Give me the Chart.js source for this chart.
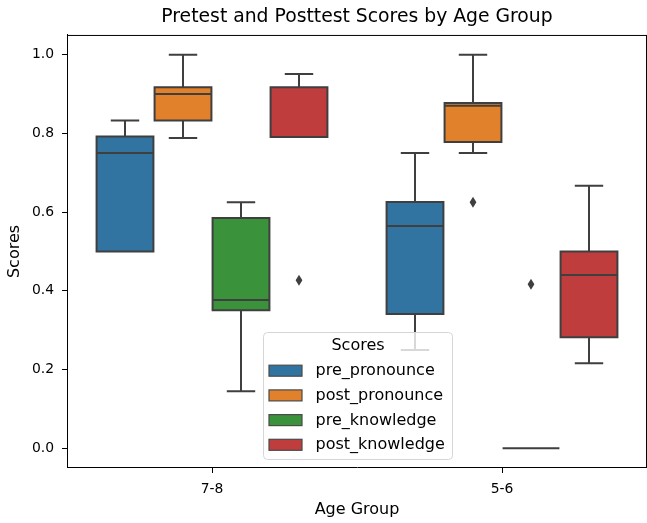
<!DOCTYPE html>
<html>
<head>
<meta charset="utf-8">
<script src="https://cdn.jsdelivr.net/npm/chart.js@4.4.1/dist/chart.umd.min.js"></script>
<style>
  html, body { margin: 0; padding: 0; background: #ffffff; }
  #wrap { width: 647px; height: 523px; position: relative; }
</style>
</head>
<body>
<div id="wrap"><canvas id="c" width="647" height="523"></canvas></div>
<script>
// ---- data ----
const categories = ['7-8', '5-6'];
const seriesNames = ['pre_pronounce', 'post_pronounce', 'pre_knowledge', 'post_knowledge'];
const seriesColors = ['#3274a1', '#e1812c', '#3a923a', '#c03d3e'];
// one row per series, one value per category (7-8, 5-6)
const whiskerLow  = [[0.500, 0.250], [0.788, 0.750], [0.145, 0.000], [0.791, 0.216]];
const q1          = [[0.500, 0.341], [0.833, 0.778], [0.351, 0.000], [0.791, 0.282]];
const median      = [[0.750, 0.565], [0.900, 0.870], [0.377, 0.000], [0.917, 0.440]];
const q3          = [[0.792, 0.626], [0.917, 0.877], [0.585, 0.000], [0.917, 0.500]];
const whiskerHigh = [[0.833, 0.750], [1.000, 1.000], [0.625, 0.000], [0.951, 0.667]];
const outliers    = [[[], []], [[], [0.625]], [[], [0.417]], [[0.427], []]];
const yTicks = [0.0, 0.2, 0.4, 0.6, 0.8, 1.0];

const FONT = 'DejaVu Sans';
const LINE = '#3f3f3f';

const datasets = seriesNames.map((name, s) => ({
  label: name,
  data: categories.map((c, i) => [q1[s][i], q3[s][i]]),
  backgroundColor: seriesColors[s],
  borderWidth: 0,
  categoryPercentage: 0.8,
  barPercentage: 0.98
}));

const boxExtras = {
  id: 'boxExtras',
  afterDatasetsDraw(chart) {
    const ctx = chart.ctx;
    const ys = chart.scales.y;
    ctx.save();
    ctx.strokeStyle = LINE;
    ctx.fillStyle = LINE;
    ctx.lineWidth = 2;
    ctx.lineCap = 'butt';
    ctx.lineJoin = 'miter';
    seriesNames.forEach((name, s) => {
      const meta = chart.getDatasetMeta(s);
      meta.data.forEach((bar, i) => {
        const x = bar.x;
        const w = bar.width;
        const pLo = ys.getPixelForValue(whiskerLow[s][i]);
        const pQ1 = ys.getPixelForValue(q1[s][i]);
        const pMed = ys.getPixelForValue(median[s][i]);
        const pQ3 = ys.getPixelForValue(q3[s][i]);
        const pHi = ys.getPixelForValue(whiskerHigh[s][i]);
        ctx.beginPath();
        // box outline
        if (pQ1 - pQ3 > 0.5) ctx.rect(x - w / 2, pQ3, w, pQ1 - pQ3);
        // whiskers
        if (pLo - pQ1 > 0.5) { ctx.moveTo(x, pQ1); ctx.lineTo(x, pLo); }
        if (pQ3 - pHi > 0.5) { ctx.moveTo(x, pQ3); ctx.lineTo(x, pHi); }
        // caps
        ctx.moveTo(x - w / 4, pLo); ctx.lineTo(x + w / 4, pLo);
        ctx.moveTo(x - w / 4, pHi); ctx.lineTo(x + w / 4, pHi);
        // median
        ctx.moveTo(x - w / 2, pMed); ctx.lineTo(x + w / 2, pMed);
        ctx.stroke();
        // outliers (thin diamonds)
        outliers[s][i].forEach(v => {
          const py = ys.getPixelForValue(v);
          ctx.beginPath();
          ctx.moveTo(x, py - 5.5);
          ctx.lineTo(x + 3.4, py);
          ctx.lineTo(x, py + 5.5);
          ctx.lineTo(x - 3.4, py);
          ctx.closePath();
          ctx.fill();
        });
      });
    });
    ctx.restore();
  },
  afterDraw(chart) {
    const ctx = chart.ctx;
    const a = chart.chartArea;
    ctx.save();
    // top and right spines
    ctx.strokeStyle = '#000';
    ctx.lineWidth = 1;
    ctx.beginPath();
    ctx.moveTo(a.left, a.top + 0.5); ctx.lineTo(a.right, a.top + 0.5);
    ctx.moveTo(a.right - 0.5, a.top); ctx.lineTo(a.right - 0.5, a.bottom);
    ctx.stroke();

    // legend
    const lx = 263.5, ly = 332.5, lw = 189, lh = 127, r = 4;
    ctx.beginPath();
    ctx.moveTo(lx + r, ly);
    ctx.lineTo(lx + lw - r, ly); ctx.quadraticCurveTo(lx + lw, ly, lx + lw, ly + r);
    ctx.lineTo(lx + lw, ly + lh - r); ctx.quadraticCurveTo(lx + lw, ly + lh, lx + lw - r, ly + lh);
    ctx.lineTo(lx + r, ly + lh); ctx.quadraticCurveTo(lx, ly + lh, lx, ly + lh - r);
    ctx.lineTo(lx, ly + r); ctx.quadraticCurveTo(lx, ly, lx + r, ly);
    ctx.closePath();
    ctx.fillStyle = 'rgba(255,255,255,0.8)';
    ctx.fill();
    ctx.strokeStyle = '#d6d6d6';
    ctx.lineWidth = 1;
    ctx.stroke();

    ctx.fillStyle = '#000';
    ctx.font = '16px "' + FONT + '"';
    ctx.textBaseline = 'middle';
    ctx.textAlign = 'center';
    ctx.fillText('Scores', lx + lw / 2, 346);
    ctx.textAlign = 'left';
    seriesNames.forEach((name, s) => {
      const cy = 370.7 + s * 24.7;
      ctx.fillStyle = seriesColors[s];
      ctx.fillRect(269, cy - 5.5, 33, 11);
      ctx.strokeStyle = '#4a4a4a';
      ctx.lineWidth = 1.2;
      ctx.strokeRect(269, cy - 5.5, 33, 11);
      ctx.fillStyle = '#000';
      ctx.fillText(name, 315.5, cy + 0.5);
    });
    ctx.restore();
  }
};

new Chart(document.getElementById('c'), {
  type: 'bar',
  data: { labels: categories, datasets },
  plugins: [boxExtras],
  options: {
    responsive: false,
    animation: false,
    events: [],
    layout: { padding: { left: 0, right: 0, top: 0, bottom: 0 } },
    plugins: {
      legend: { display: false },
      tooltip: { enabled: false },
      title: {
        display: true,
        fullSize: false,
        text: 'Pretest and Posttest Scores by Age Group',
        color: '#000',
        font: { family: FONT, size: 18.8, weight: 'normal', lineHeight: 1.2 },
        padding: { top: 6.2, bottom: 6.2 }
      }
    },
    scales: {
      x: {
        type: 'category',
        offset: true,
        grid: { display: true, offset: false, drawOnChartArea: false, drawTicks: true, tickLength: 5, color: '#000', tickWidth: 1 },
        border: { display: true, color: '#000', width: 1 },
        ticks: { color: '#000', font: { family: FONT, size: 13.9 }, padding: 8, maxRotation: 0 },
        title: { display: true, text: 'Age Group', color: '#000', font: { family: FONT, size: 16 }, padding: { top: 0, bottom: 3.4 } },
        afterFit(scale) { scale.height = 55; }
      },
      y: {
        type: 'linear',
        min: -0.05,
        max: 1.05,
        afterBuildTicks(scale) { scale.ticks = yTicks.map(v => ({ value: v })); },
        grid: { display: true, drawOnChartArea: false, drawTicks: true, tickLength: 5, color: '#000', tickWidth: 1 },
        border: { display: true, color: '#000', width: 1 },
        ticks: { color: '#000', font: { family: FONT, size: 13.9 }, padding: 8, callback: v => Number(v).toFixed(1) },
        title: { display: true, text: 'Scores', color: '#000', font: { family: FONT, size: 16 }, padding: { top: 4.9, bottom: 0 } },
        afterFit(scale) { scale.width = 67; }
      }
    }
  }
});
</script>
</body>
</html>
